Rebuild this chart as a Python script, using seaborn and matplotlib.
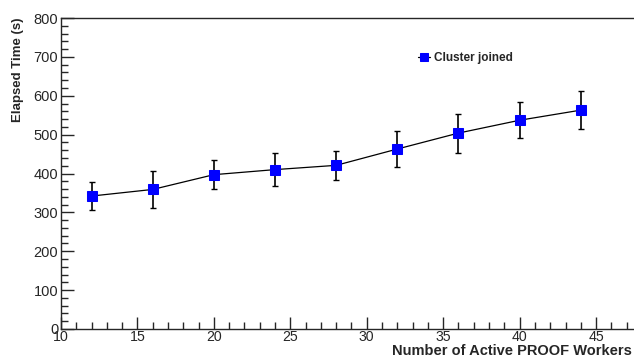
import numpy as np
import pandas as pd
import seaborn as sns
import matplotlib
matplotlib.use("Agg")
import matplotlib.pyplot as plt
from matplotlib.ticker import MultipleLocator

workers = [12, 16, 20, 24, 28, 32, 36, 40, 44]
elapsed = [342, 359, 397, 410, 421, 463, 504, 537, 563]
err = [37, 48, 38, 43, 38, 47, 50, 46, 49]

df = pd.DataFrame({"workers": workers, "elapsed": elapsed, "err": err})

sns.set_style("ticks")
plt.rcParams['font.family'] = ['Liberation Sans', 'DejaVu Sans']

fig = plt.figure(figsize=(6.34, 3.59), dpi=100)
ax = fig.add_axes([61/634, 30/359, 1 - 61/634, 311/359])

ax.errorbar(df.workers, df.elapsed, yerr=df.err, fmt='none', ecolor='black',
            elinewidth=1.2, capsize=2.5, capthick=1.0, zorder=2)
sns.lineplot(data=df, x="workers", y="elapsed", color='black', linewidth=0.9,
             marker='s', markersize=7, markerfacecolor='blue', markeredgecolor='blue',
             label='Cluster joined', ax=ax, zorder=3)

ax.set_xlim(10, 47.48)
ax.set_ylim(0, 800)
ax.xaxis.set_major_locator(MultipleLocator(5))
ax.xaxis.set_minor_locator(MultipleLocator(1))
ax.yaxis.set_major_locator(MultipleLocator(100))
ax.yaxis.set_minor_locator(MultipleLocator(20))
ax.tick_params(which='major', direction='in', length=9, width=1, labelsize=10.5, pad=2)
ax.tick_params(axis='x', which='major', labelsize=10.2, pad=0.5)
ax.tick_params(which='minor', direction='in', length=5, width=1)
ax.spines['right'].set_visible(False)
for s in ['left', 'bottom', 'top']:
    ax.spines[s].set_linewidth(1)

ax.set_xlabel("")
ax.set_ylabel("Elapsed Time (s)", fontweight='bold', fontsize=9.5)
ax.yaxis.set_label_coords(-0.075, 1.0)
ax.yaxis.label.set_verticalalignment('center')
ax.yaxis.label.set_horizontalalignment('right')

leg = ax.legend(loc='center left', bbox_to_anchor=(0.605, 0.87), frameon=False,
                prop={'weight': 'bold', 'size': 8.5}, handlelength=1.0,
                handletextpad=0.3, markerscale=0.8)

# x label sits in the strip under the tick labels, right-aligned to the edge
fig.canvas.draw()
rend = fig.canvas.get_renderer()
tick_bottom = min(t.get_window_extent(rend).y0 for t in ax.get_xticklabels()
                  if t.get_text())
size = 10.5
while True:
    xl = fig.text(0.997, (tick_bottom - 0.3) / fig.bbox.height,
                  "Number of Active PROOF Workers", fontweight='bold',
                  fontsize=size, ha='right', va='top')
    if xl.get_window_extent(rend).y0 >= 0.3 or size <= 6:
        break
    xl.remove()
    size -= 0.25

fig.savefig("out.png", dpi=100)
